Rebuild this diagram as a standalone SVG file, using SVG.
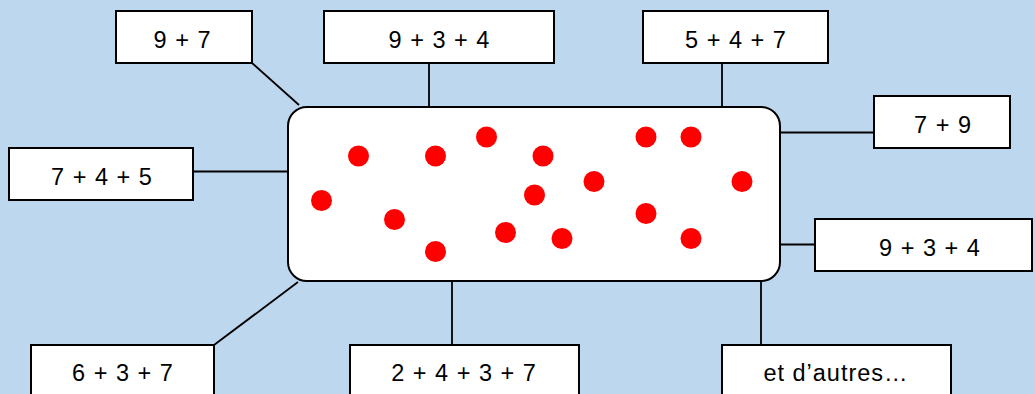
<svg xmlns="http://www.w3.org/2000/svg" width="1035" height="394" viewBox="0 0 1035 394">
<style>
.box{fill:#fff;stroke:#000;stroke-width:2}
.lbl{font-family:"Liberation Sans",Arial,sans-serif;font-size:23.5px;letter-spacing:1px;fill:#000;text-anchor:middle}
.con line{stroke:#000;stroke-width:1.8}
.dot{fill:#ff0000}
</style>
<rect width="1035" height="394" fill="#BDD7EE"/>
<g class="con" id="connectors">
<line x1="252" y1="63" x2="299" y2="105"/>
<line x1="429" y1="63" x2="429" y2="107"/>
<line x1="722" y1="63" x2="722" y2="107"/>
<line x1="780" y1="132.5" x2="874" y2="132.5"/>
<line x1="193" y1="171.5" x2="288" y2="171.5"/>
<line x1="780" y1="244.5" x2="815" y2="244.5"/>
<line x1="298" y1="282" x2="214" y2="345"/>
<line x1="452" y1="281" x2="452" y2="345"/>
<line x1="761" y1="281" x2="761" y2="345"/>
</g>
<g id="center">
<rect class="box" x="288" y="107" width="492" height="174" rx="19"/>
<circle class="dot" cx="321.5" cy="200.5" r="10.5"/>
<circle class="dot" cx="358.5" cy="156" r="10.5"/>
<circle class="dot" cx="435.5" cy="156" r="10.5"/>
<circle class="dot" cx="486.5" cy="137" r="10.5"/>
<circle class="dot" cx="543" cy="156" r="10.5"/>
<circle class="dot" cx="534.5" cy="195" r="10.5"/>
<circle class="dot" cx="594" cy="181.5" r="10.5"/>
<circle class="dot" cx="646" cy="137" r="10.5"/>
<circle class="dot" cx="691" cy="137" r="10.5"/>
<circle class="dot" cx="742" cy="181.5" r="10.5"/>
<circle class="dot" cx="394.5" cy="219.5" r="10.5"/>
<circle class="dot" cx="505.5" cy="232.5" r="10.5"/>
<circle class="dot" cx="562" cy="238.5" r="10.5"/>
<circle class="dot" cx="646" cy="213.5" r="10.5"/>
<circle class="dot" cx="691" cy="238.5" r="10.5"/>
<circle class="dot" cx="435.5" cy="251.5" r="10.5"/>
</g>
<g id="n1"><rect class="box" x="116" y="11" width="136" height="52"/><text class="lbl" x="182.5" y="48">9 + 7</text></g>
<g id="n2"><rect class="box" x="324" y="11" width="230" height="52"/><text class="lbl" x="439.5" y="48">9 + 3 + 4</text></g>
<g id="n3"><rect class="box" x="643" y="11" width="185" height="52"/><text class="lbl" x="736" y="48">5 + 4 + 7</text></g>
<g id="n4"><rect class="box" x="874" y="96" width="136" height="52"/><text class="lbl" x="943" y="133">7 + 9</text></g>
<g id="n5"><rect class="box" x="9" y="148" width="184" height="52"/><text class="lbl" x="102" y="184.5">7 + 4 + 5</text></g>
<g id="n6"><rect class="box" x="815" y="219" width="217" height="52"/><text class="lbl" x="930" y="256">9 + 3 + 4</text></g>
<g id="n7"><rect class="box" x="31" y="345" width="183" height="60"/><text class="lbl" x="123" y="381">6 + 3 + 7</text></g>
<g id="n8"><rect class="box" x="350" y="345" width="229" height="60"/><text class="lbl" x="464" y="381">2 + 4 + 3 + 7</text></g>
<g id="n9"><rect class="box" x="722" y="345" width="229" height="60"/><text class="lbl" x="836" y="381">et d’autres…</text></g>
</svg>
